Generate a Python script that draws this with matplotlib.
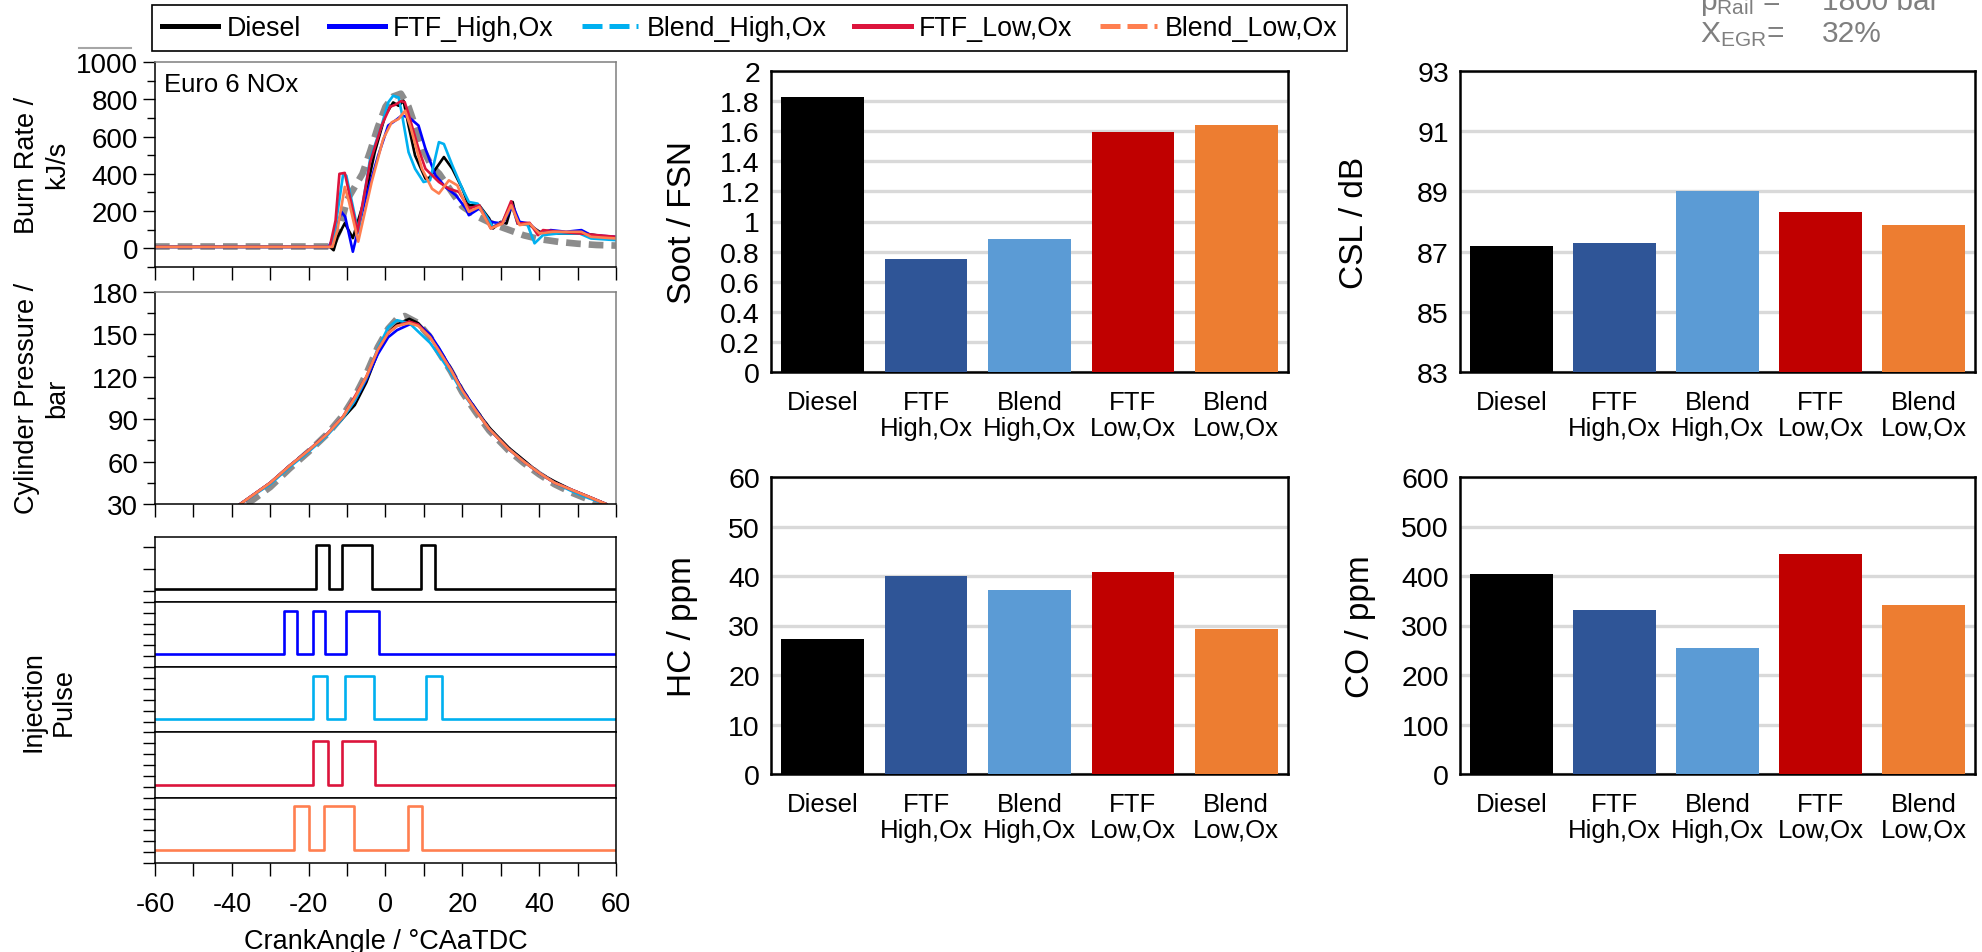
import numpy as np
import matplotlib
matplotlib.use('Agg')
import matplotlib.pyplot as plt
from matplotlib.lines import Line2D
from matplotlib.ticker import MultipleLocator, FuncFormatter

plt.rcParams['font.family'] = ['Liberation Sans', 'DejaVu Sans']
plt.rcParams['mathtext.fontset'] = 'custom'
plt.rcParams['mathtext.rm'] = 'Liberation Sans'
plt.rcParams['mathtext.it'] = 'Liberation Sans:italic'

# ---------------- data ----------------
series = ['Diesel', 'FTF_High,Ox', 'Blend_High,Ox', 'FTF_Low,Ox', 'Blend_Low,Ox']
line_colors = ['#000000', '#0000FF', '#00B0F0', '#DC143C', '#FF7F50']
categories = ['Diesel', 'FTF\nHigh,Ox', 'Blend\nHigh,Ox', 'FTF\nLow,Ox', 'Blend\nLow,Ox']
bar_colors = ['#000000', '#2F5597', '#5B9BD5', '#C00000', '#ED7D31']

soot = [1.83, 0.75, 0.885, 1.595, 1.64]
csl = [87.2, 87.3, 89.0, 88.3, 87.9]
hc = [27.2, 40.0, 37.2, 40.8, 29.2]
co = [405, 331, 254, 444, 341]

# burn rate (kJ/s) vs crank angle
br_diesel_ca = [-60, -14.5, -13.5, -12.5, -10.6, -8.5, -5.4, -2.8, -0.1, 2.0, 3.4, 4.7, 6.0, 7.7, 10.4, 11.5, 15.2, 17.4, 20.0, 21.7, 24.4, 27.0, 28.0, 30.0, 31.5, 33.1, 34.4, 37.5, 40.1, 43.6, 48.0, 51.5, 55.0, 60]
br_diesel = [8, 8, -10, 60, 135, 55, 267, 516, 712, 783, 765, 792, 659, 498, 374, 380, 490, 427, 320, 231, 231, 160, 107, 142, 133, 249, 133, 125, 89, 80, 80, 80, 70, 53]
br_ftfh_ca = [-60, -14.8, -13.5, -11.5, -10.5, -8.5, -5.4, -1.9, 0.7, 2.5, 4.2, 6.0, 8.6, 10.4, 13.0, 15.6, 18.3, 20.9, 21.7, 24.4, 27.4, 30.5, 33.1, 34.9, 37.5, 40.1, 43.0, 47.0, 51.0, 53.5, 60]
br_ftfh = [8, 8, 60, 196, 170, -18, 250, 498, 659, 685, 712, 705, 659, 534, 392, 329, 285, 214, 178, 214, 142, 133, 231, 142, 133, 80, 98, 89, 98, 71, 62]
br_blh_ca = [-60, -14.5, -13.3, -11.0, -10.2, -7.1, -4.0, -1.0, 0.7, 2.0, 3.4, 4.2, 6.0, 7.7, 9.9, 11.6, 13.9, 15.2, 17.4, 20.0, 21.7, 24.0, 26.1, 27.9, 30.5, 32.7, 34.4, 37.0, 38.8, 41.0, 45.0, 50.5, 53.5, 60]
br_blh = [8, 8, 80, 400, 390, 89, 480, 660, 783, 819, 810, 730, 516, 427, 356, 365, 570, 560, 445, 320, 249, 240, 178, 116, 142, 240, 133, 125, 27, 71, 80, 80, 53, 44]
br_ftfl_ca = [-60, -14.5, -13.0, -12.0, -10.6, -7.3, -4.0, -1.0, 1.2, 2.5, 4.0, 5.0, 6.0, 8.6, 10.4, 13.9, 16.5, 19.1, 21.7, 24.4, 27.4, 30.5, 32.7, 34.4, 37.5, 39.7, 41.0, 45.4, 50.6, 55.0, 60]
br_ftfl = [8, 8, 150, 400, 405, 89, 463, 659, 760, 770, 790, 785, 720, 534, 427, 356, 320, 303, 214, 231, 107, 142, 253, 133, 137, 71, 98, 89, 80, 71, 62]
br_bll_ca = [-60, -13.8, -12.5, -10.6, -9.5, -7.1, -3.6, -0.6, 1.6, 3.4, 5.1, 6.4, 9.5, 12.1, 13.9, 16.5, 18.7, 20.9, 21.7, 24.4, 27.4, 30.5, 32.7, 34.9, 37.5, 40.1, 43.6, 47.0, 51.0, 53.5, 60]
br_bll = [8, 8, 100, 330, 250, 36, 356, 587, 676, 694, 739, 659, 427, 320, 294, 365, 338, 231, 196, 222, 107, 133, 231, 125, 133, 80, 89, 89, 89, 62, 53]
br_ref_ca = [-60, -14, -12, -10, -8, -6, -4, -2, 0, 2, 4, 6, 8, 10, 12, 14, 16, 18, 20, 24, 28, 32, 36, 40, 45, 50, 55, 60]
br_ref = [10, 10, 100, 260, 330, 400, 520, 650, 760, 815, 830, 760, 640, 520, 440, 400, 340, 280, 225, 170, 130, 100, 70, 50, 35, 25, 18, 15]

# cylinder pressure (bar) vs crank angle
p_ca = [-37.8, -30, -25, -20, -15, -11, -8, -5, -2, 0.7, 3, 6.2, 8.5, 11.6, 14, 17, 20, 23.5, 27, 32, 36, 40, 44, 48.5, 53, 57.4]
p_diesel = [30, 45, 57, 68, 80, 91, 100, 116, 137, 151, 157, 161, 158, 149, 139, 126, 111, 97, 84, 70, 61, 52, 46, 40, 35, 30]
p_ftfh = [30, 45, 57, 68, 80, 92, 103, 118, 136, 148, 153, 157, 157, 150, 140, 126, 111, 97, 83, 69, 60, 52, 45, 40, 35, 30]
p_blh = [30, 44, 56, 67, 79, 91, 103, 119, 140, 155, 160, 158, 152, 144, 135, 123, 109, 96, 83, 69, 60, 52, 45, 39, 34, 30]
p_ftfl = [30, 45, 57, 68, 80, 92, 106, 120, 139, 151, 156, 159, 157, 148, 138, 125, 110, 96, 83, 69, 60, 52, 45, 40, 35, 30]
p_bll = [30, 45, 57, 68, 80, 92, 105, 120, 139, 151, 156, 158, 156, 148, 138, 125, 110, 96, 83, 69, 60, 52, 45, 40, 35, 30]
p_ref_ca = [-36, -30, -25, -20, -15, -11, -8, -5, -2, 0.7, 3, 5, 8.5, 11.6, 14, 17, 20, 23.5, 27, 32, 36, 40, 44, 48.5, 53, 56]
p_ref = [30, 42, 55, 67, 80, 93, 106, 122, 141, 154, 161, 163, 158, 148, 137, 124, 109, 95, 82, 68, 59, 51, 44, 38, 33, 30]

# injection pulses (start, end) in deg CA aTDC
inj_diesel = [(-18.2, -14.8), (-11.3, -3.5), (9.2, 12.8)]
inj_ftfh = [(-26.4, -23.1), (-19.0, -15.7), (-10.4, -1.7)]
inj_blh = [(-19.0, -15.2), (-10.5, -3.0), (10.5, 14.6)]
inj_ftfl = [(-18.8, -15.0), (-11.2, -2.8)]
inj_bll = [(-23.7, -19.9), (-16.1, -8.2), (5.9, 9.4)]

# ---------------- figure ----------------
W, H = 1983, 953
fig = plt.figure(figsize=(W / 100, H / 100), dpi=100)


def axes_px(l, t, r, b):
    return fig.add_axes([l / W, 1 - b / H, (r - l) / W, (b - t) / H])


LW = 1.9
REF_GRAY = '#8C8C8C'
REF_DASH = (0, (2.2, 1.2))


def style_line_axes(ax, labelbottom=False):
    ax.set_xlim(-60, 60)
    ax.xaxis.set_major_locator(MultipleLocator(20))
    ax.xaxis.set_minor_locator(MultipleLocator(10))
    ax.tick_params(axis='x', which='both', direction='out', length=9, width=1.0,
                   labelbottom=labelbottom, labelsize=19.5, pad=11)
    ax.tick_params(axis='y', which='major', direction='out', length=9, width=1.0, labelsize=20, pad=3)
    ax.tick_params(axis='y', which='minor', direction='out', length=6, width=1.0)
    for s in ['top', 'right']:
        ax.spines[s].set_color('#7F7F7F')
    for s in ax.spines.values():
        s.set_linewidth(1.1)


# burn rate
ax_br = axes_px(155, 63, 616, 268)
ax_br.plot(br_ref_ca, br_ref, color=REF_GRAY, lw=4.8, ls=REF_DASH, zorder=1)
for ca, v, c in zip([br_diesel_ca, br_ftfh_ca, br_blh_ca, br_ftfl_ca, br_bll_ca],
                    [br_diesel, br_ftfh, br_blh, br_ftfl, br_bll], line_colors):
    ax_br.plot(ca, v, color=c, lw=LW, zorder=2)
ax_br.set_ylim(-100, 1000)
ax_br.yaxis.set_major_locator(MultipleLocator(200))
ax_br.yaxis.set_minor_locator(MultipleLocator(100))
style_line_axes(ax_br)
ax_br.text(0.02, 0.95, 'Euro 6 NOx', transform=ax_br.transAxes, fontsize=18.5, va='top', ha='left')

# cylinder pressure
ax_p = axes_px(155, 293, 616, 505)
ax_p.plot(p_ref_ca, p_ref, color=REF_GRAY, lw=4.8, ls=REF_DASH, zorder=1)
for v, c in zip([p_diesel, p_ftfh, p_blh, p_ftfl, p_bll], line_colors):
    ax_p.plot(p_ca, v, color=c, lw=LW, zorder=2)
ax_p.set_ylim(30, 180)
ax_p.yaxis.set_major_locator(MultipleLocator(30))
ax_p.yaxis.set_minor_locator(MultipleLocator(15))
style_line_axes(ax_p)

# injection pulses
inj_all = [inj_diesel, inj_ftfh, inj_blh, inj_ftfl, inj_bll]
top, bot = 537.5, 864.0
ph = (bot - top) / 5
for i, (pulses, c) in enumerate(zip(inj_all, line_colors)):
    ax = axes_px(155, top + i * ph, 616, top + (i + 1) * ph)
    xs, ys = [-60], [0]
    for s, e in pulses:
        xs += [s, s, e, e]
        ys += [0, 1, 1, 0]
    xs.append(60)
    ys.append(0)
    ax.plot(xs, ys, color=c, lw=LW)
    ax.set_ylim(-0.3, 1.2)
    if i == 0:
        ax.set_yticks([-0.3, -0.05, 0.45, 0.95])
    else:
        ax.set_yticks([-0.3, -0.05, 0.2, 0.45, 0.7, 0.95])
    style_line_axes(ax, labelbottom=(i == 4))
    ax.tick_params(axis='y', direction='out', length=9, width=1.0, labelleft=False)
    for s in ax.spines.values():
        s.set_color('black')
    if i < 4:
        ax.tick_params(axis='x', which='both', bottom=False, labelbottom=False)
    else:
        ax.set_xticks(np.arange(-60, 61, 20))
        ax.set_xticklabels([f'{v:d}' for v in np.arange(-60, 61, 20)])

fig.text(386 / W, 1 - 942 / H, 'CrankAngle / °CAaTDC', fontsize=19.5, ha='center', va='center')

# left y labels
fig.text(42 / W, 1 - 165 / H, 'Burn Rate /\nkJ/s', rotation=90, fontsize=19.5, ha='center', va='center',
         multialignment='center')
fig.text(42 / W, 1 - 398 / H, 'Cylinder Pressure /\nbar', rotation=90, fontsize=19.5, ha='center',
         va='center', multialignment='center')
fig.text(49 / W, 1 - 702 / H, 'Injection\nPulse', rotation=90, fontsize=19.5, ha='center', va='center',
         multialignment='center')


# bar charts
def bar_panel(rect, vals, ylim, step, ylabel, label_x):
    ax = axes_px(*rect)
    x = np.arange(len(vals))
    ax.bar(x, vals, width=0.8, color=bar_colors, zorder=3)
    ax.set_xlim(-0.5, len(vals) - 0.5)
    ax.set_ylim(*ylim)
    ax.set_yticks(np.arange(ylim[0], ylim[1] + step / 2, step))
    ax.yaxis.set_major_formatter(FuncFormatter(lambda v, p: f'{round(v, 6):g}'))
    ax.yaxis.grid(True, color='#D9D9D9', lw=2.4, zorder=0)
    ax.set_axisbelow(True)
    ax.set_xticks(x)
    ax.set_xticklabels(categories, fontsize=18.5, linespacing=1.1)
    ax.tick_params(axis='x', length=0, pad=13)
    ax.tick_params(axis='y', length=0, labelsize=20.5, pad=8)
    for s in ax.spines.values():
        s.set_color('black')
        s.set_linewidth(1.8)
    t, b = rect[1], rect[3]
    fig.text(label_x / W, 1 - (t + b) / 2 / H, ylabel, rotation=90, fontsize=24, ha='center', va='center')
    return ax


bar_panel((771, 72, 1288, 373), soot, (0, 2), 0.2, 'Soot / FSN', 683)
bar_panel((771, 478, 1288, 775), hc, (0, 60), 10, 'HC / ppm', 683)
bar_panel((1460, 72, 1975, 373), csl, (83, 93), 2, 'CSL / dB', 1355)
bar_panel((1460, 478, 1975, 775), co, (0, 600), 100, 'CO / ppm', 1360)

# legend
LEG_DASH = (0, (4.0, 1.4))
handles = [Line2D([], [], color=line_colors[0], lw=3.6),
           Line2D([], [], color=line_colors[1], lw=3.6),
           Line2D([], [], color=line_colors[2], lw=3.6, ls=LEG_DASH),
           Line2D([], [], color=line_colors[3], lw=3.6),
           Line2D([], [], color=line_colors[4], lw=3.6, ls=LEG_DASH)]
leg = fig.legend(handles, series, loc='upper left', bbox_to_anchor=(152 / W, 1 - 6 / H), ncol=5,
                 frameon=True, fancybox=False, edgecolor='black', framealpha=1, fontsize=19.3,
                 handlelength=2.1, columnspacing=1.05, handletextpad=0.3, borderpad=0.38,
                 borderaxespad=0)
leg.get_frame().set_linewidth(1.2)

# operating-point annotation (top right, partly outside the frame)
gray = '#7F7F7F'
fig.text(1700 / W, 1 - 10 / H, r'$\mathrm{p}_{\mathrm{Rail}}$ =', fontsize=21.5, color=gray, va='baseline')
fig.text(1822 / W, 1 - 10 / H, '1800 bar', fontsize=21.5, color=gray, va='baseline')
fig.text(1700 / W, 1 - 42 / H, r'$\mathrm{X}_{\mathrm{EGR}}$=', fontsize=21.5, color=gray, va='baseline')
fig.text(1822 / W, 1 - 42 / H, '32%', fontsize=21.5, color=gray, va='baseline')

fig.add_artist(Line2D([79 / W, 131 / W], [1 - 49 / H, 1 - 49 / H], color='#A6A6A6', lw=1.5,
                      transform=fig.transFigure))

fig.savefig('out.png', dpi=100)
